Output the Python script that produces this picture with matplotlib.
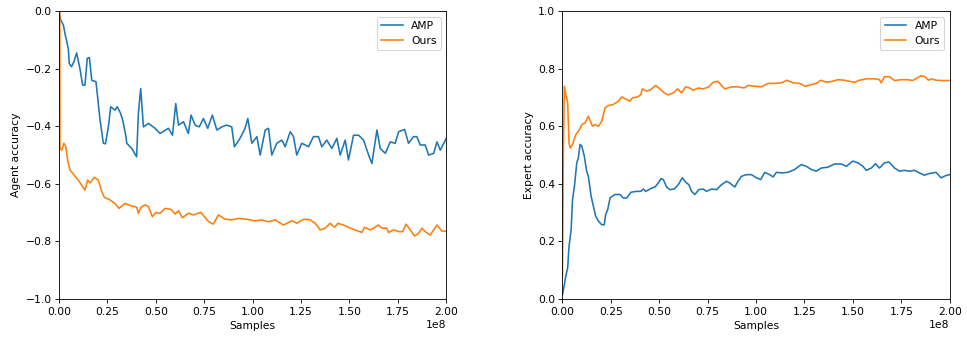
import numpy as np
import matplotlib
matplotlib.use("Agg")
import matplotlib.pyplot as plt

# samples in units of 1e8
agent_amp_x = [0.0, 0.009, 0.023, 0.031, 0.048, 0.053, 0.065, 0.077, 0.091, 0.108, 0.122, 0.134, 0.146, 0.157,
               0.169, 0.191, 0.212, 0.229, 0.240, 0.255, 0.267, 0.289, 0.301, 0.318, 0.329, 0.346, 0.350, 0.376,
               0.401, 0.410, 0.422, 0.436, 0.462, 0.496, 0.522, 0.565,
               0.586, 0.603, 0.617, 0.643, 0.668, 0.682, 0.703, 0.724, 0.746, 0.768, 0.792, 0.815, 0.841, 0.866,
               0.892, 0.906, 0.935, 0.961, 0.975, 0.996, 1.022, 1.039, 1.065, 1.082, 1.099, 1.125, 1.151, 1.168,
               1.194, 1.211, 1.228, 1.254, 1.289, 1.314, 1.340, 1.357, 1.383, 1.409, 1.435, 1.452, 1.478, 1.495,
               1.521, 1.547, 1.573, 1.599, 1.616, 1.642, 1.659, 1.685, 1.711, 1.736, 1.754, 1.785, 1.805, 1.831,
               1.848, 1.866, 1.891, 1.909, 1.935, 1.952, 1.969, 2.0]
agent_amp_y = [0.0, -0.031, -0.049, -0.078, -0.130, -0.182, -0.193, -0.176, -0.145, -0.199, -0.257, -0.257,
               -0.164, -0.161, -0.240, -0.245, -0.378, -0.459, -0.461, -0.402, -0.332, -0.344, -0.332, -0.355,
               -0.378, -0.436, -0.459, -0.477, -0.506, -0.355, -0.269, -0.402,
               -0.390, -0.407, -0.425, -0.407, -0.431, -0.321, -0.396, -0.384, -0.425, -0.361, -0.396, -0.402,
               -0.373, -0.407, -0.361, -0.413, -0.402, -0.396, -0.402, -0.471, -0.442, -0.407, -0.373, -0.459,
               -0.436, -0.500, -0.413, -0.407, -0.500, -0.459, -0.448, -0.471, -0.419, -0.436, -0.500, -0.459,
               -0.471, -0.436, -0.436, -0.471, -0.448, -0.477, -0.442, -0.500, -0.448, -0.517, -0.431, -0.431,
               -0.448, -0.500, -0.529, -0.413, -0.477, -0.494, -0.454, -0.459, -0.419, -0.411, -0.459, -0.436,
               -0.436, -0.465, -0.465, -0.500, -0.494, -0.454, -0.483, -0.442]

agent_ours_x = [0.004, 0.005, 0.014, 0.025, 0.035, 0.045, 0.057, 0.100, 0.134, 0.148, 0.160, 0.183, 0.203, 0.221,
                0.234, 0.264, 0.289, 0.310, 0.341, 0.376, 0.401, 0.410, 0.424, 0.444, 0.462, 0.482, 0.500, 0.522,
                0.548, 0.579, 0.600, 0.617, 0.637, 0.668, 0.694, 0.732, 0.772, 0.797, 0.823, 0.858, 0.892, 0.927,
                0.970, 1.013, 1.047, 1.082, 1.116, 1.159, 1.203, 1.228, 1.263, 1.297, 1.323, 1.349, 1.375, 1.400,
                1.423, 1.440, 1.469, 1.495, 1.529, 1.564, 1.578, 1.607, 1.624, 1.650, 1.667, 1.693, 1.702, 1.728,
                1.754, 1.775, 1.792, 1.814, 1.836, 1.857, 1.874, 1.891, 1.917, 1.952, 1.977, 2.0]
agent_ours_y = [0.0, -0.477, -0.483, -0.459, -0.470, -0.52, -0.552, -0.587, -0.622, -0.587, -0.597, -0.577,
                -0.587, -0.627, -0.647, -0.656, -0.668, -0.685, -0.668, -0.677, -0.681, -0.702, -0.681, -0.673,
                -0.679, -0.714, -0.700, -0.702, -0.685, -0.689, -0.705, -0.693, -0.718, -0.702, -0.708, -0.699,
                -0.731, -0.740, -0.708, -0.723, -0.725, -0.720, -0.723, -0.729, -0.725, -0.732, -0.725, -0.743,
                -0.728, -0.737, -0.723, -0.725, -0.737, -0.760, -0.754, -0.737, -0.751, -0.737, -0.743, -0.751,
                -0.760, -0.769, -0.751, -0.760, -0.754, -0.743, -0.754, -0.754, -0.769, -0.760, -0.766, -0.766,
                -0.740, -0.760, -0.781, -0.772, -0.754, -0.766, -0.778, -0.743, -0.764, -0.764]

expert_ours_x = [0.0, 0.005, 0.010, 0.019, 0.027, 0.034, 0.040, 0.052, 0.069, 0.086, 0.100, 0.117, 0.134, 0.155,
                 0.168, 0.186, 0.203, 0.220, 0.237, 0.263, 0.289, 0.306, 0.326, 0.349, 0.361, 0.388, 0.405, 0.412,
                 0.435, 0.457, 0.481, 0.503, 0.526, 0.546, 0.572, 0.595, 0.615, 0.636, 0.658, 0.675, 0.701, 0.727,
                 0.756, 0.778, 0.804, 0.821, 0.838, 0.873, 0.907, 0.938, 0.959, 0.993, 1.027, 1.062, 1.096, 1.131,
                 1.160, 1.191, 1.225, 1.254, 1.285, 1.311, 1.333, 1.363, 1.392, 1.423, 1.457, 1.483, 1.509, 1.534,
                 1.569, 1.612, 1.637, 1.646, 1.663, 1.689, 1.715, 1.749, 1.784, 1.809, 1.832, 1.852, 1.873, 1.890,
                 1.907, 1.930, 1.964, 2.0]
expert_ours_y = [0.079, 0.519, 0.739, 0.705, 0.681, 0.542, 0.525, 0.537, 0.571, 0.586, 0.606, 0.612, 0.635,
                 0.600, 0.606, 0.600, 0.618, 0.664, 0.672, 0.676, 0.687, 0.702, 0.695, 0.687, 0.699, 0.702, 0.710,
                 0.730, 0.722, 0.728, 0.742, 0.730, 0.716, 0.709, 0.716, 0.730, 0.716, 0.737, 0.733, 0.725, 0.733,
                 0.730, 0.737, 0.753, 0.756, 0.742, 0.730, 0.737, 0.737, 0.733, 0.742, 0.739, 0.737, 0.749, 0.749,
                 0.751, 0.760, 0.751, 0.749, 0.739, 0.745, 0.749, 0.760, 0.753, 0.756, 0.762, 0.760, 0.756, 0.753,
                 0.760, 0.765, 0.765, 0.762, 0.751, 0.772, 0.772, 0.759, 0.762, 0.762, 0.759, 0.768, 0.776, 0.772,
                 0.760, 0.765, 0.760, 0.759, 0.759]

expert_amp_x = [0.0, 0.010, 0.017, 0.027, 0.034, 0.045, 0.052, 0.062, 0.074, 0.082, 0.091, 0.100, 0.113, 0.125,
                0.134, 0.148, 0.160, 0.172, 0.186, 0.203, 0.216, 0.223, 0.234, 0.246, 0.258, 0.271, 0.297, 0.314,
                0.332, 0.354, 0.383, 0.405, 0.418, 0.430, 0.460, 0.478, 0.495, 0.509, 0.521, 0.538, 0.555, 0.577,
                0.598, 0.619, 0.636, 0.653, 0.667, 0.684, 0.704, 0.727, 0.744, 0.770, 0.796, 0.821, 0.847, 0.864,
                0.890, 0.907, 0.924, 0.950, 0.976, 1.002, 1.024, 1.045, 1.070, 1.088, 1.105, 1.131, 1.165, 1.199,
                1.234, 1.259, 1.285, 1.311, 1.337, 1.371, 1.405, 1.440, 1.466, 1.500, 1.526, 1.552, 1.569, 1.595,
                1.617, 1.637, 1.663, 1.686, 1.715, 1.741, 1.766, 1.792, 1.818, 1.844, 1.869, 1.895, 1.930, 1.955,
                1.981, 2.0]
expert_amp_y = [0.015, 0.050, 0.079, 0.108, 0.183, 0.241, 0.345, 0.392, 0.473, 0.490, 0.537, 0.531, 0.496,
                0.444, 0.426, 0.357, 0.322, 0.287, 0.270, 0.258, 0.258, 0.293, 0.311, 0.351, 0.357, 0.363, 0.363,
                0.351, 0.351, 0.371, 0.374, 0.374, 0.382, 0.374, 0.385, 0.389, 0.403, 0.418, 0.415, 0.389, 0.380,
                0.382, 0.397, 0.421, 0.406, 0.397, 0.374, 0.363, 0.380, 0.382, 0.374, 0.382, 0.380, 0.397, 0.409,
                0.403, 0.389, 0.409, 0.426, 0.432, 0.432, 0.421, 0.415, 0.440, 0.432, 0.424, 0.440, 0.438, 0.440,
                0.450, 0.467, 0.461, 0.450, 0.444, 0.455, 0.458, 0.469, 0.469, 0.461, 0.479, 0.473, 0.461, 0.447,
                0.455, 0.470, 0.455, 0.473, 0.476, 0.455, 0.444, 0.447, 0.444, 0.447, 0.438, 0.430, 0.436, 0.440,
                0.421, 0.429, 0.432]

scale = 1e8

fig, (ax1, ax2) = plt.subplots(1, 2, figsize=(12.56, 4.403), dpi=77)
fig.subplots_adjust(left=0.061, right=0.982, bottom=0.118, top=0.967, wspace=0.30)

ax1.plot(np.array(agent_amp_x) * scale, agent_amp_y, label="AMP")
ax1.plot(np.array(agent_ours_x) * scale, agent_ours_y, label="Ours")
ax1.set_xlim(0, 2e8)
ax1.set_ylim(-1.0, 0.0)
ax1.set_xlabel("Samples")
ax1.set_ylabel("Agent accuracy")
ax1.legend(loc="upper right")

ax2.plot(np.array(expert_amp_x) * scale, expert_amp_y, label="AMP")
ax2.plot(np.array(expert_ours_x) * scale, expert_ours_y, label="Ours")
ax2.set_xlim(0, 2e8)
ax2.set_ylim(0.0, 1.0)
ax2.set_xlabel("Samples")
ax2.set_ylabel("Expert accuracy")
ax2.legend(loc="upper right")

fig.savefig("out.png", dpi=77)
